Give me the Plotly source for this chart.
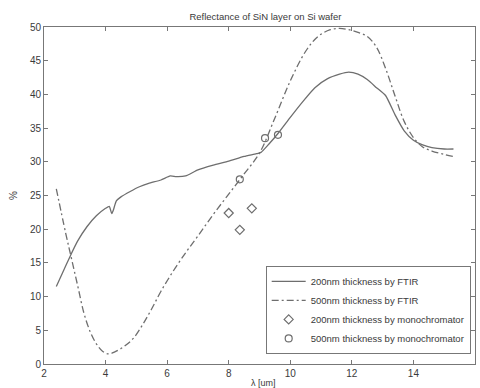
import plotly.graph_objects as go

x200 = [2.4, 2.6, 2.85, 3.1, 3.4, 3.7, 4.0, 4.12, 4.2, 4.25, 4.35, 4.5, 4.8, 5.1, 5.4, 5.8, 6.1, 6.3, 6.6,
        7.0, 7.5, 8.0, 8.5, 8.9, 9.05, 9.3, 9.6, 10.0, 10.4, 10.8, 11.2, 11.6, 11.9, 12.2, 12.5, 12.8,
        13.1, 13.4, 13.7, 14.0, 14.3, 14.6, 15.0, 15.3]
y200 = [11.5, 13.5, 16.0, 18.3, 20.4, 22.0, 23.1, 23.4, 22.3, 22.8, 24.2, 24.8, 25.6, 26.3, 26.8, 27.3, 27.9,
        27.8, 27.9, 28.8, 29.5, 30.1, 30.8, 31.2, 31.4, 32.6, 34.2, 36.6, 38.9, 41.0, 42.3, 43.0, 43.3, 43.0,
        42.2, 41.0, 39.8, 37.0, 34.6, 33.2, 32.5, 32.1, 31.9, 31.9]

x500 = [2.4, 2.7, 2.9, 3.1, 3.3, 3.5, 3.7, 3.9, 4.1, 4.3, 4.6, 4.9, 5.2, 5.5, 5.8, 6.2, 6.6, 7.0, 7.5, 8.0,
        8.5, 9.0, 9.5, 10.0, 10.5, 10.9, 11.3, 11.6, 11.9, 12.2, 12.5, 12.8, 13.1, 13.4, 13.7, 14.0, 14.3,
        14.6, 15.0, 15.3]
y500 = [26.0, 19.5, 15.5, 11.5, 7.5, 4.8, 3.0, 1.9, 1.5, 1.8, 2.6, 3.8, 5.8, 8.2, 10.8, 13.8, 16.5, 19.0,
        22.2, 25.2, 28.2, 31.3, 36.5, 42.0, 46.4, 48.6, 49.6, 49.8, 49.6, 49.2, 48.6, 47.0, 43.8, 39.8, 36.0,
        33.6, 32.2, 31.6, 31.1, 30.8]

xd200 = [8.0, 8.36, 8.75]
yd200 = [22.4, 19.9, 23.1]
xc500 = [8.36, 9.18, 9.6]
yc500 = [27.4, 33.5, 34.0]

col = "#6e6e6e"
txt = "#3a3a3a"
fig = go.Figure()
fig.add_trace(go.Scatter(x=x200, y=y200, mode="lines", name="200nm thickness by FTIR",
                         line=dict(color=col, width=1.3, shape="spline", smoothing=0.5)))
fig.add_trace(go.Scatter(x=x500, y=y500, mode="lines", name="500nm thickness by FTIR",
                         line=dict(color=col, width=1.3, dash="7px,3px,2px,3px", shape="spline")))
fig.add_trace(go.Scatter(x=xd200, y=yd200, mode="markers", name="200nm thickness by monochromator",
                         marker=dict(symbol="diamond-open", size=7, color=col, line=dict(width=1.2))))
fig.add_trace(go.Scatter(x=xc500, y=yc500, mode="markers", name="500nm thickness by monochromator",
                         marker=dict(symbol="circle-open", size=7, color=col, line=dict(width=1.2))))

axis = dict(showline=True, linecolor="#777", linewidth=1, mirror="ticks", ticks="inside", ticklen=4,
            tickcolor="#777", showgrid=False, zeroline=False, automargin=False,
            tickfont=dict(size=10, color=txt))
fig.update_layout(
    width=480, height=388,
    margin=dict(l=44, r=5, t=27, b=24),
    paper_bgcolor="white", plot_bgcolor="white",
    font=dict(family="Liberation Sans, Arial, sans-serif", size=10, color=txt),
    title=dict(text="Reflectance of SiN layer on Si wafer", x=0.553, xanchor="center", y=0.958,
               yanchor="middle", font=dict(size=9.5, color=txt)),
    xaxis=dict(axis, range=[2, 16], dtick=2),
    yaxis=dict(axis, range=[0, 50], dtick=5,
               title=dict(text="%", standoff=10, font=dict(size=10, color=txt))),
    legend=dict(x=0.99, y=0.03, xanchor="right", yanchor="bottom", bordercolor="#777", borderwidth=1,
                bgcolor="white", font=dict(size=9.5, color=txt), tracegroupgap=0, itemwidth=34),
    showlegend=True,
    annotations=[dict(text="λ [um]", xref="paper", yref="paper", x=0.51, y=-0.056, xanchor="center",
                      yanchor="middle", showarrow=False, font=dict(size=9, color=txt))],
)
fig.write_html("out.html", config={"displayModeBar": False},
               post_script="document.body.style.margin='0';")
